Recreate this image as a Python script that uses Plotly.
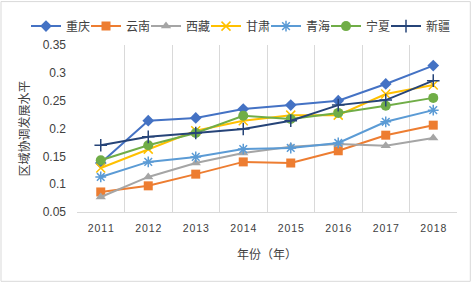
import plotly.graph_objects as go

years = [2011, 2012, 2013, 2014, 2015, 2016, 2017, 2018]
series_names = ["重庆", "云南", "西藏", "甘肃", "青海", "宁夏", "新疆"]
chongqing = [0.138, 0.214, 0.219, 0.235, 0.242, 0.250, 0.280, 0.313]
yunnan = [0.086, 0.097, 0.118, 0.140, 0.138, 0.160, 0.188, 0.206]
xizang = [0.077, 0.113, 0.138, 0.156, 0.167, 0.172, 0.169, 0.183]
gansu = [0.129, 0.163, 0.196, 0.214, 0.224, 0.224, 0.262, 0.278]
qinghai = [0.113, 0.140, 0.149, 0.163, 0.165, 0.174, 0.212, 0.233]
ningxia = [0.143, 0.170, 0.192, 0.223, 0.217, 0.228, 0.241, 0.255]
xinjiang = [0.170, 0.185, 0.192, 0.199, 0.214, 0.242, 0.251, 0.286]
y_ticks = [0.05, 0.1, 0.15, 0.2, 0.25, 0.3, 0.35]
y_tick_labels = ["0.05", "0.1", "0.15", "0.2", "0.25", "0.3", "0.35"]
x_tick_labels = ["\u200a".join(str(y)) for y in years]
x_title = "年份（年）"
y_title = "区域协调发展水平"

values = [chongqing, yunnan, xizang, gansu, qinghai, ningxia, xinjiang]
colors = ["#4472C4", "#ED7D31", "#A5A5A5", "#FFC000", "#5B9BD5", "#70AD47", "#264478"]
symbols = ["diamond", "square", "triangle-up", "x-thin", "asterisk", "circle", "cross-thin"]
sizes = [9, 9, 9, 9, 9, 10, 9]

font_family = "Liberation Sans, Noto Sans CJK SC, sans-serif"
txt = "#404040"

L, R, T, B, W, H = 77, 15, 45, 70, 472, 282
plot_w = W - L - R

fig = go.Figure()
legend_layouts = {}
for i, (name, vals, c, s, sz) in enumerate(zip(series_names, values, colors, symbols, sizes)):
    open_sym = s in ("x-thin", "asterisk", "cross-thin")
    lname = "legend" if i == 0 else f"legend{i + 1}"
    fig.add_trace(go.Scatter(
        x=years, y=vals, name=name, mode="lines+markers",
        line=dict(color=c, width=2),
        marker=dict(symbol=s, size=sz, color=c,
                    line=dict(color=c, width=1.5 if open_sym else 0)),
        legend=lname,
    ))
    legend_layouts[lname] = dict(
        orientation="h", x=(26 + 60 * i - L) / plot_w, xanchor="left",
        y=1.2, yanchor="top", font=dict(size=12, color=txt),
        itemwidth=30, bgcolor="rgba(0,0,0,0)",
    )

fig.update_layout(
    width=W, height=H,
    margin=dict(l=L, r=R, t=T, b=B, autoexpand=False),
    paper_bgcolor="white", plot_bgcolor="white",
    font=dict(family=font_family, size=12, color=txt),
    showlegend=True,
    xaxis=dict(
        range=[2010.5, 2018.5], tickvals=years, ticktext=x_tick_labels,
        showgrid=False, showline=True, linecolor="#D9D9D9", linewidth=1,
        ticks="", tickfont=dict(size=10.5, color=txt), ticklabelstandoff=6,
        minor=dict(tick0=2010.5, dtick=1, showgrid=True, gridcolor="#D9D9D9", gridwidth=1),
        zeroline=False,
    ),
    yaxis=dict(
        range=[0.05, 0.35], tickvals=y_ticks, ticktext=y_tick_labels,
        showgrid=False, showline=False, ticks="", zeroline=False,
        tickfont=dict(size=12, color=txt), ticklabelstandoff=10,
    ),
    **legend_layouts,
)
fig.add_annotation(text=x_title, xref="paper", yref="paper", x=0.5, y=-0.257,
                   showarrow=False, xanchor="center", yanchor="middle",
                   font=dict(size=12, color=txt))
fig.add_annotation(text=y_title, xref="paper", yref="paper", x=-0.137, y=0.5,
                   showarrow=False, xanchor="center", yanchor="middle", textangle=-90,
                   font=dict(size=12, color=txt))
fig.add_shape(type="rect", xref="paper", yref="paper", x0=-0.2, x1=1.035, y0=-0.415, y1=1.26,
              line=dict(color="#D9D9D9", width=1), layer="below")
fig.write_html("out.html", config={"displayModeBar": False})

with open("out.html", "r", encoding="utf-8") as f:
    html = f.read()
html = html.replace("<body>", '<body style="margin:0;padding:0;">', 1)
with open("out.html", "w", encoding="utf-8") as f:
    f.write(html)
